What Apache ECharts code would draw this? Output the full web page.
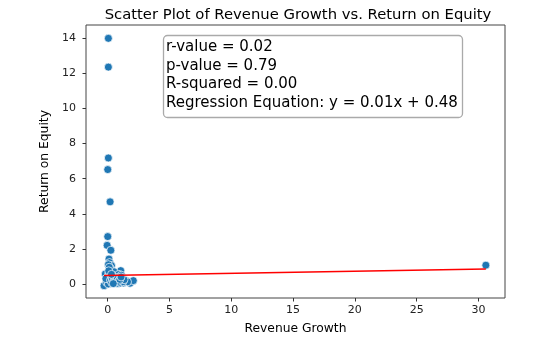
<!DOCTYPE html>
<html>
<head>
<meta charset="utf-8">
<script src="https://cdn.jsdelivr.net/npm/echarts@6/dist/echarts.min.js"></script>
<style>
  html, body { margin: 0; padding: 0; background: #fff; }
  #chart { width: 559px; height: 350px; }
</style>
</head>
<body>
<div id="chart"></div>
<script>
// revenue growth / return on equity pairs
var revenueGrowth = [
  0.05, 0.05, 0.05, 0.0, 0.19, 0.0, -0.05, 0.25, 0.1, 0.15, 0.3, 0.05, 1.05, -0.2, -0.3, 1.8, 2.07, 30.6,
  0.1, 0.2, 0.3, 0.4, 0.5, 0.6, 0.7, 0.8, 0.9, 1.0, 1.1, 1.2, 1.3, 1.4, 1.5,
  0.2, 0.3, 0.4, 0.5, 0.6, 0.7, 0.8, 0.9, 1.0, 0.15, 0.25, 0.35, 0.45, 0.55,
  0.65, 0.75, 0.85, 0.95, 1.15, 1.25, 1.6, 0.05, 0.1, 0.0, -0.1, 0.05, 0.12,
  0.18, 0.5, 0.9, 1.1, -0.15,
  0.22, 0.32, 0.42, 0.52, 0.62, 0.72, 0.82, 0.92, 1.02, 1.12, 1.22, 1.32,
  0.28, 0.38, 0.48, 0.58, 0.68, 0.78, 0.88, 0.98, 1.08, 0.12, 0.08, 0.3, 0.45
];
var returnOnEquity = [
  14.0, 12.36, 7.18, 6.52, 4.68, 2.7, 2.2, 1.92, 1.42, 1.22, 1.05, 1.1, 0.76, 0.57, -0.1, 0.04, 0.19, 1.07,
  0.85, 0.9, 0.7, 0.6, 0.45, 0.35, 0.3, 0.25, 0.2, 0.15, 0.1, 0.2, 0.15, 0.1, 0.18,
  0.3, 0.2, 0.1, 0.05, 0.15, 0.05, 0.1, 0.3, 0.35, 0.05, 0.12, 0.4, 0.25, 0.2,
  0.5, 0.12, 0.4, 0.08, 0.28, 0.05, 0.12, 0.5, 0.35, 0.2, 0.1, 0.0, 0.65,
  0.45, 0.7, 0.55, 0.5, 0.3,
  0.22, 0.08, 0.32, 0.15, 0.25, 0.18, 0.02, 0.22, 0.06, 0.32, 0.12, 0.24,
  0.42, 0.28, 0.14, 0.38, 0.2, 0.34, 0.16, 0.26, 0.4, 0.95, 0.75, 0.55, 0.02
];
var xTicks = [0, 5, 10, 15, 20, 25, 30];
var yTicks = [0, 2, 4, 6, 8, 10, 12, 14];
var statsLines = [
  "r-value = 0.02",
  "p-value = 0.79",
  "R-squared = 0.00",
  "Regression Equation: y = 0.01x + 0.48"
];
var fitSlope = 0.012;
var fitIntercept = 0.48;
var fitRange = [-0.3, 30.6];

var points = revenueGrowth.map(function (x, i) { return [x, returnOnEquity[i]]; });
var fitLine = fitRange.map(function (x) { return [x, fitSlope * x + fitIntercept]; });

var font = "DejaVu Sans";
var myChart = echarts.init(document.getElementById("chart"));
myChart.setOption({
  animation: false,
  title: [
    {
      text: "Scatter Plot of Revenue Growth vs. Return on Equity",
      left: 293,
      textAlign: "center",
      top: 3,
      textStyle: { fontFamily: font, fontSize: 14.8, fontWeight: "normal", color: "#000" }
    },
    {
      text: statsLines.join("\n"),
      left: 163,
      top: 35,
      padding: [3, 5, 6, 3],
      borderColor: "#aaa",
      borderWidth: 1.3,
      borderRadius: 4,
      backgroundColor: "rgba(255,255,255,0.8)",
      textStyle: { fontFamily: font, fontSize: 15, fontWeight: "normal", color: "#000", lineHeight: 18.5 }
    }
  ],
  grid: {
    left: 86, right: 54, top: 25, bottom: 52,
    show: true, borderColor: "#444", borderWidth: 1, backgroundColor: "#fff"
  },
  xAxis: {
    type: "value",
    min: -1.76,
    max: 32.15,
    name: "Revenue Growth",
    nameLocation: "middle",
    nameGap: 25,
    nameTextStyle: { fontFamily: font, fontSize: 12.3, color: "#000" },
    axisLine: { show: false, onZero: false },
    axisTick: { show: true, customValues: xTicks, length: 3.5, lineStyle: { color: "#333" } },
    axisLabel: { customValues: xTicks, fontFamily: font, fontSize: 11, color: "#222", margin: 7 },
    splitLine: { show: false }
  },
  yAxis: {
    type: "value",
    min: -0.8,
    max: 14.76,
    name: "Return on Equity",
    nameLocation: "middle",
    nameGap: 32,
    nameTextStyle: { fontFamily: font, fontSize: 12.3, color: "#000" },
    axisLine: { show: false, onZero: false },
    axisTick: { show: true, customValues: yTicks, length: 3.5, lineStyle: { color: "#333" } },
    axisLabel: { customValues: yTicks, fontFamily: font, fontSize: 11, color: "#222", margin: 10 },
    splitLine: { show: false }
  },
  series: [
    {
      type: "scatter",
      data: points,
      symbolSize: 8,
      itemStyle: { color: "#1f77b4", borderColor: "#fff", borderWidth: 0.7, opacity: 1 },
      z: 2
    },
    {
      type: "line",
      data: fitLine,
      showSymbol: false,
      symbol: "none",
      lineStyle: { color: "#ff0000", width: 1.5 },
      z: 3
    }
  ]
});
</script>
</body>
</html>
